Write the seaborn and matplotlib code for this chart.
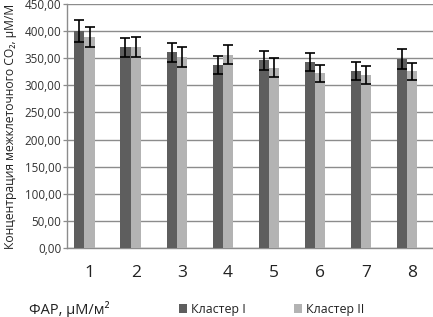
import numpy as np
import pandas as pd
import seaborn as sns
import matplotlib.pyplot as plt
from matplotlib.ticker import FixedLocator, FuncFormatter

# values
par = ['1', '2', '3', '4', '5', '6', '7', '8']
cl1 = [400, 370, 361, 338, 346, 343, 327, 349]
cl2 = [389, 371, 352, 357, 333, 322, 319, 326]
err1 = [20, 18, 18, 17, 17, 17, 17, 18]
err2 = [19, 19, 18, 18, 17, 16, 16, 16]
names = ['Кластер I', 'Кластер II']

df = pd.DataFrame({
    'par': par * 2,
    'val': cl1 + cl2,
    'cluster': [names[0]] * 8 + [names[1]] * 8,
})

sns.set_style("white")
plt.rcParams['font.family'] = ['Open Sans', 'DejaVu Sans']

grid_c = '#8c8c8c'
dark = '#5e5e5e'
light = '#b3b3b3'

fig = plt.figure(figsize=(4.33, 3.17), dpi=100)
ax = fig.add_axes([0.154, 0.218, 0.85, 0.769])

sns.barplot(data=df, x='par', y='val', hue='cluster', order=par,
            hue_order=names, palette=[dark, light], width=0.44,
            errorbar=None, linewidth=0, saturation=1, ax=ax, zorder=3)

# error bars on top of each bar
for cont, errs in zip(ax.containers, [err1, err2]):
    xs = [b.get_x() + b.get_width() / 2 for b in cont]
    hs = [b.get_height() for b in cont]
    ax.errorbar(xs, hs, yerr=errs, fmt='none', ecolor='black',
                elinewidth=1.2, capsize=3.6, capthick=1.2, zorder=4)

ax.set_ylim(0, 450)
ax.set_xlim(-0.385, 7.595)
ax.set_yticks(np.arange(0, 451, 50))
ax.yaxis.set_major_formatter(FuncFormatter(lambda v, p: f"{v:.2f}".replace('.', ',')))
ax.grid(axis='y', color=grid_c, linewidth=1.0, zorder=0)
ax.set_axisbelow(True)

ax.xaxis.set_major_locator(FixedLocator([k + 0.115 for k in range(8)]))
ax.set_xticklabels(par)
ax.xaxis.set_minor_locator(FixedLocator([k - 0.385 for k in range(9)]))
ax.tick_params(axis='x', which='major', length=0, pad=12.5, labelsize=12.5, colors='#222222')
ax.tick_params(axis='x', which='minor', length=3.6, width=0.9, color=grid_c, direction='out')
ax.tick_params(axis='y', length=3, width=0.9, color=grid_c, pad=1, labelsize=8.4,
               labelcolor='#333333', direction='out', left=True)

for s in ['top', 'right']:
    ax.spines[s].set_visible(False)
for s in ['left', 'bottom']:
    ax.spines[s].set_color(grid_c)
    ax.spines[s].set_linewidth(1.0)

ax.set_xlabel('')
ax.set_ylabel('')
fig.text(0.024, 0.218 + 0.769 / 2, 'Концентрация межклеточного CO₂, μМ/М',
         rotation=90, ha='center', va='center', fontsize=8.7, color='#222222')

h, l = ax.get_legend_handles_labels()
ax.legend_.remove()
fig.legend(h, l, loc='center', bbox_to_anchor=(0.627, 0.024), ncol=2, frameon=False,
           fontsize=8.9, handlelength=0.7, handleheight=0.7, handletextpad=0.3,
           columnspacing=3.9, labelcolor='#222222')
fig.text(0.066, 0.024, 'ФАР, μМ/м²', ha='left', va='center', fontsize=10.5, color='#222222')

fig.savefig('out.png', dpi=100)
